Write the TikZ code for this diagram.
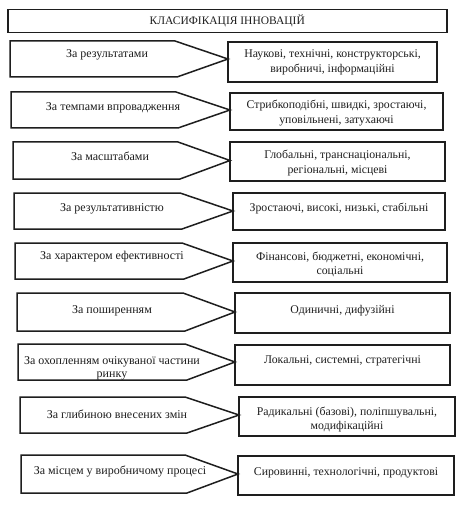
\documentclass[tikz,border=0pt]{standalone}
\usepackage{fontspec}
\setmainfont{Liberation Serif}
\definecolor{ink}{HTML}{1E1E1E}
\begin{document}
\begin{tikzpicture}[x=1pt,y=-1pt,line width=1.5pt,line join=miter,draw=ink,
  shapeline/.style={draw=ink},
  lbl/.style={inner sep=0pt,align=center,text=ink,font=\fontsize{12}{13}\selectfont},
  rlbl/.style={inner sep=0pt,align=center,text=ink,font=\fontsize{11.8}{14.5}\selectfont}]
\useasboundingbox[fill=white] (0,0) rectangle (465,505);
\node[draw=ink,anchor=north west,minimum width=439pt,minimum height=23pt,inner sep=0pt,
  text=ink,font=\fontsize{11.5}{13}\selectfont] (title) at (7,9) {КЛАСИФІКАЦІЯ ІННОВАЦІЙ};
\foreach \lx/\cx/\tx/\rx/\t/\b/\rt/\rb/\ltx/\lty/\rty/\lab/\rlab [count=\i] in {
  10/175/228/437/41/77/42/82/107/52/59.5/{За результатами}/{Наукові, технічні, конструкторські,\\виробничі, інформаційні},
  11/176/230/443/92/128/93/130/113/105/110/{За темпами впровадження}/{Стрибкоподібні, швидкі, зростаючі,\\уповільнені, затухаючі},
  13/178/230/445/142/179/142/181/110/153/160/{За масштабами}/{Глобальні, транснаціональні,\\регіональні, місцеві},
  14/180/233/445/193/229/193/230/112/206/206/{За результативністю}/{Зростаючі, високі, низькі, стабільні},
  15/182/233/447/243/279/243/282/112/254/261.5/{За характером ефективності}/{Фінансові, бюджетні, економічні,\\соціальні},
  17/183/235/450/293/331/293/333/112/308/308/{За поширенням}/{Одиничні, дифузійні},
  18/185/235/450/344/380/345/385/112/365.5/358/{За охопленням очікуваної частини\\ринку}/{Локальні, системні, стратегічні},
  20/185/239/455/397/433/397/436/117/411/416.5/{За глибиною внесених змін}/{Радикальні (базові), поліпшувальні,\\модифікаційні},
  21/185/238/454/455/493/456/495/120/468/470/{За місцем у виробничому процесі}/{Сировинні, технологічні, продуктові}} {
  \draw[shapeline] (\lx,\t) -- (\cx,\t) -- (\tx,{(\t+\b)/2}) -- (\cx+2,\b) -- (\lx,\b) -- cycle;
  \draw[shapeline] (\tx,\rt) rectangle (\rx,\rb);
  \node[lbl] (L\i) at (\ltx,\lty+3) {\lab};
  \node[rlbl] (R\i) at ({(\tx+\rx)/2},\rty+3) {\rlab};
}
\end{tikzpicture}
\end{document}
